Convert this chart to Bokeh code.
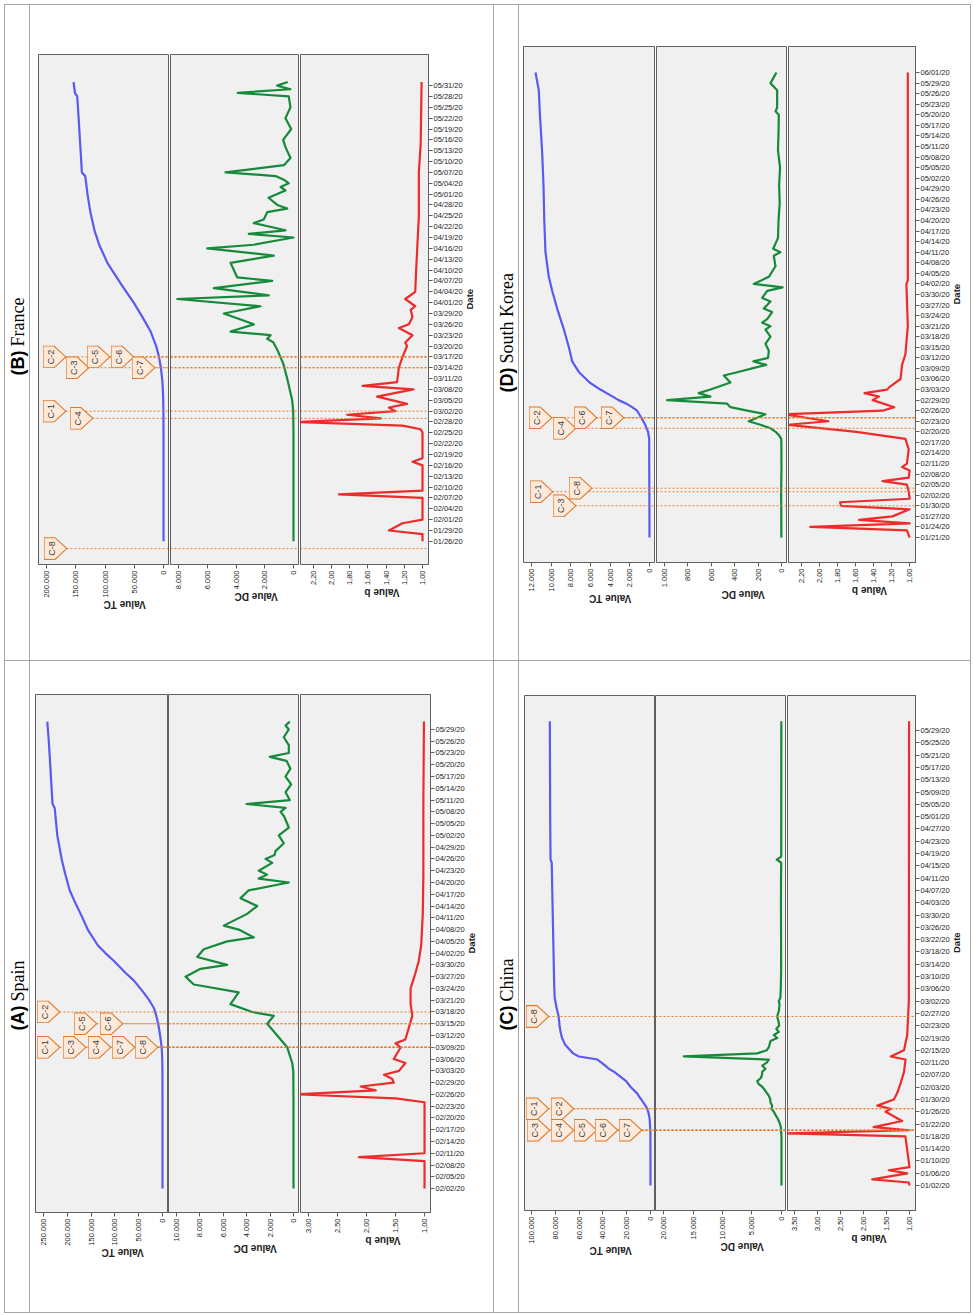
import math, base64
import pandas as pd
from bokeh.plotting import figure
from bokeh.models import Range1d, FixedTicker, Span, Spacer
from bokeh.layouts import row, column
from bokeh.core.properties import value
from bokeh.embed import file_html
from bokeh.resources import INLINE

EPOCH = pd.Timestamp("2020-01-01")
def day(s):
    return int((pd.Timestamp(s) - EPOCH).days)

# ======================= DATA =======================
# each series: [day offset from the country's first day, value]

# ---- (B) France ----
FR_DAY0 = "2020-01-26"
fr_tc = [[0,3],[20,12],[30,60],[35,130],[40,650],[44,1800],[48,4500],[51,7700],[54,12600],
         [58,22000],[62,36000],[66,51000],[71,72000],[77,96000],[82,110000],[86,118000],
         [91,125000],[96,130000],[100,133000],[101,134000],[102,139500],[110,142500],
         [118,145500],[123,147500],[124,151400],[127,153800]]
fr_dc = [[0,0],[30,0],[36,20],[39,90],[45,440],[49,700],[53,1130],[55,1400],[56,1830],[57,1600],
         [58,4380],[60,2760],[63,4850],[65,2300],[67,8090],[68,1720],[70,5540],[72,1480],
         [73,3920],[75,4150],[77,4380],[79,1370],[81,6000],[82,2760],[84,0],[85,3110],[86,560],
         [88,2760],[89,2070],[91,1830],[92,440],[93,1130],[95,1740],[97,560],[98,900],[99,330],
         [100,670],[101,1250],[102,4730],[104,670],[106,210],[109,560],[111,720],[114,160],
         [117,560],[120,210],[123,330],[124,3880],[125,210],[126,1130],[127,400]]
fr_b = [[0,1.0],[2,1.0],[3,1.37],[5,1.22],[6,1.0],[12,1.0],[13,1.92],[14,1.0],[21,1.0],[22,1.11],
        [23,1.0],[30,1.0],[31,1.02],[32,1.22],[33,2.4],[34,1.46],[35,1.83],[36,1.30],[37,1.37],
        [38,1.17],[40,1.50],[42,1.10],[43,1.66],[44,1.28],[48,1.26],[51,1.22],[54,1.17],[55,1.19],
        [57,1.11],[59,1.26],[60,1.15],[62,1.11],[64,1.13],[65,1.08],[67,1.19],[69,1.08],[75,1.07],
        [80,1.06],[90,1.04],[102,1.04],[110,1.02],[127,1.01]]
fr_marks = [["C-1","2020-03-02"],["C-2","2020-03-17"],["C-3","2020-03-14"],["C-4","2020-02-29"],
            ["C-5","2020-03-17"],["C-6","2020-03-17"],["C-7","2020-03-14"],["C-8","2020-01-24"]]
fr_tc_ticks = [0, 50000, 100000, 150000, 200000]
fr_tc_labels = ["0", "50.000", "100.000", "150.000", "200.000"]
fr_dc_ticks = [0, 2000, 4000, 6000, 8000]
fr_dc_labels = ["0", "2.000", "4.000", "6.000", "8.000"]
fr_b_ticks = [1.0, 1.2, 1.4, 1.6, 1.8, 2.0, 2.2]
fr_b_labels = ["1,00", "1,20", "1,40", "1,60", "1,80", "2,00", "2,20"]

# ---- (A) Spain ----
ES_DAY0 = "2020-02-02"
es_tc = [[0,1],[22,2],[24,6],[27,45],[30,165],[33,500],[36,1700],[39,5000],[42,9000],[44,13000],
         [46,18000],[48,28000],[50,40000],[53,60000],[55,78000],[58,102000],[60,120000],[62,136000],
         [66,157000],[70,172000],[73,184000],[76,195000],[80,204000],[84,212000],[90,221000],
         [97,226500],[98,231000],[104,234000],[110,236800],[115,239500],[119,242000]]
es_dc = [[0,0],[22,0],[30,20],[32,110],[36,540],[39,1390],[42,2250],[44,1680],[45,3530],[47,5390],
         [50,4680],[52,8520],[54,9230],[56,7950],[57,5670],[59,8230],[61,7670],[63,5670],[64,3390],
         [66,4680],[67,5960],[70,3960],[72,3100],[74,4530],[76,3820],[78,400],[79,2970],[80,2250],
         [81,2970],[83,1820],[84,2390],[85,1620],[86,1540],[88,830],[90,1260],[92,400],[95,830],
         [96,1110],[97,680],[98,4020],[99,320],[101,680],[103,200],[105,680],[107,260],[109,600],
         [110,2030],[111,400],[113,400],[115,830],[117,400],[118,680],[119,320]]
es_b = [[0,1.0],[7,1.0],[8,2.13],[9,1.0],[22,1.0],[23,1.5],[24,3.2],[25,1.84],[26,2.1],[27,1.53],
        [28,1.56],[29,1.7],[30,1.44],[32,1.33],[33,1.53],[36,1.41],[37,1.5],[38,1.33],[41,1.27],
        [44,1.21],[47,1.24],[51,1.24],[55,1.155],[58,1.1],[62,1.057],[70,1.03],[80,1.02],[98,1.02],
        [119,1.01]]
es_marks = [["C-1","2020-03-09"],["C-2","2020-03-18"],["C-3","2020-03-09"],["C-4","2020-03-09"],
            ["C-5","2020-03-15"],["C-6","2020-03-15"],["C-7","2020-03-09"],["C-8","2020-03-09"]]
es_tc_ticks = [0, 50000, 100000, 150000, 200000, 250000]
es_tc_labels = ["0", "50.000", "100.000", "150.000", "200.000", "250.000"]
es_dc_ticks = [0, 2000, 4000, 6000, 8000, 10000]
es_dc_labels = ["0", "2.000", "4.000", "6.000", "8.000", "10.000"]
es_b_ticks = [1.0, 1.5, 2.0, 2.5, 3.0]
es_b_labels = ["1,00", "1,50", "2,00", "2,50", "3,00"]

# ---- (D) South Korea ----
KR_DAY0 = "2020-01-21"
kr_tc = [[0,1],[10,11],[20,28],[28,31],[30,150],[32,430],[34,830],[36,1260],[37,1770],[38,2340],
         [39,3150],[40,3740],[42,5000],[44,6090],[47,7190],[50,7860],[54,8200],[59,8700],[65,9390],
         [70,9890],[74,10240],[81,10580],[90,10700],[100,10780],[109,10910],[120,11140],
         [127,11260],[132,11590]]
kr_dc = [[0,1],[10,2],[12,3],[20,0],[27,1],[28,2],[29,20],[30,50],[31,94],[32,180],[33,280],
         [34,208],[35,137],[36,293],[37,436],[38,464],[39,977],[40,607],[41,707],[42,607],[43,521],
         [44,436],[46,493],[47,370],[48,250],[49,130],[50,240],[51,115],[53,108],[55,137],[57,94],
         [59,137],[60,94],[61,165],[62,122],[64,80],[65,151],[67,94],[68,165],[70,122],[71,-10],
         [72,237],[74,108],[77,51],[80,66],[81,9],[82,71],[85,30],[90,25],[95,15],[100,20],
         [105,12],[110,30],[115,25],[120,23],[121,51],[122,37],[127,37],[129,94],[132,43]]
kr_b = [[0,1.0],[2,1.03],[3,2.10],[4,1.0],[5,1.56],[6,1.19],[8,1.0],[9,1.76],[10,1.77],[11,1.0],
        [13,1.01],[15,1.03],[16,1.30],[17,1.01],[19,1.0],[20,1.084],[21,1.03],[25,1.01],[28,1.047],
        [30,1.59],[32,2.35],[33,1.90],[35,2.4],[36,1.30],[37,1.17],[39,1.41],[40,1.34],[41,1.50],
        [42,1.25],[43,1.21],[45,1.10],[49,1.084],[52,1.047],[60,1.02],[72,1.036],[73,1.02],
        [132,1.02]]
kr_marks = [["C-1","2020-02-03"],["C-2","2020-02-24"],["C-3","2020-01-30"],["C-4","2020-02-21"],
            ["C-6","2020-02-24"],["C-7","2020-02-24"],["C-8","2020-02-04"]]
kr_tc_ticks = [0, 2000, 4000, 6000, 8000, 10000, 12000]
kr_tc_labels = ["0", "2.000", "4.000", "6.000", "8.000", "10.000", "12.000"]
kr_dc_ticks = [0, 200, 400, 600, 800, 1000]
kr_dc_labels = ["0", "200", "400", "600", "800", "1.000"]
kr_b_ticks = [1.0, 1.2, 1.4, 1.6, 1.8, 2.0, 2.2]
kr_b_labels = ["1,00", "1,20", "1,40", "1,60", "1,80", "2,00", "2,20"]

# ---- (C) China ----
CN_DAY0 = "2020-01-02"
cn_tc = [[0,0],[17,60],[18,200],[19,290],[20,440],[21,570],[22,830],[23,1290],[24,1980],[25,2740],
         [26,4200],[27,5970],[28,7710],[29,9690],[30,11200],[32,16500],[34,20500],[35,24000],
         [37,30500],[38,35000],[39,38000],[41,44500],[42,60200],[43,65000],[44,67500],[46,72000],
         [48,74300],[50,75600],[52,76400],[55,77200],[58,79000],[61,80500],[65,80900],[70,81200],
         [80,81700],[95,82500],[105,83000],[106,84000],[120,84300],[151,84600]]
cn_dc = [[0,0],[16,5],[18,80],[19,120],[20,250],[21,460],[22,700],[23,1020],[24,1300],[25,1700],
         [26,1580],[27,1860],[28,1900],[29,2100],[30,2420],[31,2800],[32,3200],[33,3850],[34,4120],
         [35,3500],[36,3300],[37,3270],[38,2710],[39,3270],[40,2500],[41,2150],[42,16560],[43,4120],
         [44,2500],[45,2150],[46,2000],[47,1860],[48,730],[49,1300],[50,450],[51,890],[52,400],
         [53,460],[55,730],[57,430],[59,330],[60,460],[61,200],[64,120],[70,60],[80,70],[90,90],
         [100,80],[105,50],[106,800],[107,50],[120,40],[151,30]]
cn_b = [[0,1.0],[1,1.015],[2,1.81],[4,1.05],[5,1.45],[6,1.0],[16,1.09],[17,3.7],[18,1.0],[19,1.78],
        [21,1.16],[24,1.52],[25,1.41],[26,1.70],[28,1.34],[30,1.27],[33,1.20],[37,1.12],[41,1.087],
        [42,1.41],[44,1.12],[49,1.05],[60,1.015],[151,1.01]]
cn_marks = [["C-1","2020-01-27"],["C-2","2020-01-27"],["C-3","2020-01-20"],["C-4","2020-01-20"],
            ["C-5","2020-01-20"],["C-6","2020-01-20"],["C-7","2020-01-20"],["C-8","2020-02-26"]]
cn_tc_ticks = [0, 20000, 40000, 60000, 80000, 100000]
cn_tc_labels = ["0", "20.000", "40.000", "60.000", "80.000", "100.000"]
cn_dc_ticks = [0, 5000, 10000, 15000, 20000]
cn_dc_labels = ["0", "5.000", "10.000", "15.000", "20.000"]
cn_b_ticks = [1.0, 1.5, 2.0, 2.5, 3.0, 3.5]
cn_b_labels = ["1,00", "1,50", "2,00", "2,50", "3,00", "3,50"]

COUNTRIES = {
    "FR": dict(letter="(B)", name="France", day0=FR_DAY0, tc=fr_tc, dc=fr_dc, b=fr_b, marks=fr_marks,
               ticks=dict(tc=(fr_tc_ticks, fr_tc_labels), dc=(fr_dc_ticks, fr_dc_labels), b=(fr_b_ticks, fr_b_labels)),
               dates=("2020-01-26", "2020-05-31", 3)),
    "ES": dict(letter="(A)", name="Spain", day0=ES_DAY0, tc=es_tc, dc=es_dc, b=es_b, marks=es_marks,
               ticks=dict(tc=(es_tc_ticks, es_tc_labels), dc=(es_dc_ticks, es_dc_labels), b=(es_b_ticks, es_b_labels)),
               dates=("2020-02-02", "2020-05-29", 3)),
    "KR": dict(letter="(D)", name="South Korea", day0=KR_DAY0, tc=kr_tc, dc=kr_dc, b=kr_b, marks=kr_marks,
               ticks=dict(tc=(kr_tc_ticks, kr_tc_labels), dc=(kr_dc_ticks, kr_dc_labels), b=(kr_b_ticks, kr_b_labels)),
               dates=("2020-01-21", "2020-06-01", 3)),
    "CN": dict(letter="(C)", name="China", day0=CN_DAY0, tc=cn_tc, dc=cn_dc, b=cn_b, marks=cn_marks,
               ticks=dict(tc=(cn_tc_ticks, cn_tc_labels), dc=(cn_dc_ticks, cn_dc_labels), b=(cn_b_ticks, cn_b_labels)),
               dates=("2020-01-02", "2020-05-29", 4)),
}

# ======================= LAYOUT / STYLE =======================
LAYOUT = {
    "FR": dict(H=655, top=49, bottom=96, fh=510, w=dict(tc=(8, 130, 1), dc=(1, 128, 1), b=(1, 128, 65)),
               yr=(-6.4, 134.6), xr=dict(tc=(213700, -8500), dc=(8557, -348), b=(2.343, 0.934)),
               off={"C-1": 4, "C-2": 4, "C-3": 27, "C-4": 31, "C-5": 48, "C-6": 72, "C-7": 93, "C-8": 5},
               title_y=285),
    "ES": dict(H=651, top=33, bottom=100, fh=518, w=dict(tc=(5, 132, 1), dc=(0, 130, 1), b=(1, 130, 63)),
               yr=(-6.1, 125.9), xr=dict(tc=(266800, -10500), dc=(10684, -427), b=(3.138, 0.897)),
               off={"C-1": 1, "C-2": 1, "C-3": 27, "C-4": 52, "C-5": 38, "C-6": 64, "C-7": 76, "C-8": 99},
               title_y=282),
    "KR": dict(H=655, top=41, bottom=98, fh=516, w=dict(tc=(4, 131, 1), dc=(1, 130, 1), b=(1, 129, 53)),
               yr=(-7.1, 139.4), xr=dict(tc=(12813, -508), dc=(1068, -43), b=(2.342, 0.935)),
               off={"C-1": 6, "C-2": 5, "C-3": 29, "C-4": 29, "C-6": 50, "C-7": 77, "C-8": 45},
               title_y=268),
    "CN": dict(H=651, top=34, bottom=102, fh=515, w=dict(tc=(5, 130, 1), dc=(0, 130, 1), b=(1, 128, 55)),
               yr=(-8.1, 159.4), xr=dict(tc=(105880, -3361), dc=(21356, -678), b=(3.652, 0.87)),
               off={"C-1": 1, "C-2": 26, "C-3": 2, "C-4": 26, "C-5": 49, "C-6": 70, "C-7": 94, "C-8": 1},
               title_y=282),
}

COLORS = dict(tc="#5a5af2", dc="#168a3a", b="#ee2b2b")
TITLES = dict(tc="Value TC", dc="Value DC", b="Value b")
FRAME_BG = "#f0f0f0"
FRAME_LINE = "#606060"
ORANGE = "#e6802f"
RULE = {"background-color": "#a6a6a6"}
FONT = "Liberation Sans"
MW, MH = 24, 23

_svg = ('<svg xmlns="http://www.w3.org/2000/svg" width="96" height="92" viewBox="0 0 24 23">'
        '<path d="M0.6 0.6 H11.5 L23.3 11.5 L11.5 22.4 H0.6 Z" fill="#fdeadb" stroke="#e27a2e" '
        'stroke-width="1.1"/></svg>')
MARK_URL = "data:image/svg+xml;base64," + base64.b64encode(_svg.encode()).decode()


def style_axis(ax, size="7.5px"):
    ax.major_tick_in = 0
    ax.major_tick_out = 4
    ax.minor_tick_in = 0
    ax.minor_tick_out = 0
    ax.axis_line_color = FRAME_LINE
    ax.major_tick_line_color = FRAME_LINE
    ax.major_label_text_font = FONT
    ax.major_label_text_font_size = size
    ax.major_label_text_color = "#222222"
    ax.major_label_standoff = 2
    ax.axis_label_text_font = FONT
    ax.axis_label_text_font_style = "bold"
    ax.axis_label_text_color = "#222222"


def build(code):
    c, L = COUNTRIES[code], LAYOUT[code]
    d0 = day(c["day0"])
    yr = Range1d(d0 + L["yr"][0], d0 + L["yr"][1])
    marks = [(lab, day(dt)) for lab, dt in c["marks"]]
    ds = pd.date_range(c["dates"][0], c["dates"][1], freq=f'{c["dates"][2]}D')
    dticks = [day(x) for x in ds]
    dlabels = [x.strftime("%m/%d/%y") for x in ds]
    figs = []
    for key in ("tc", "dc", "b"):
        lb, fw, rb = L["w"][key]
        p = figure(width=lb + fw + rb, height=L["top"] + L["fh"] + L["bottom"],
                   x_range=Range1d(*L["xr"][key]), y_range=yr,
                   min_border_left=lb, min_border_right=rb, min_border_top=L["top"],
                   min_border_bottom=L["bottom"], toolbar_location=None, output_backend="svg",
                   y_axis_location=("right" if key == "b" else None), x_axis_location="below")
        p.background_fill_color = FRAME_BG
        p.border_fill_color = "white"
        p.outline_line_color = FRAME_LINE
        p.outline_line_width = 1
        p.grid.visible = False
        ser = c[key]
        p.line(x=[v for _, v in ser], y=[d0 + d for d, _ in ser], line_color=COLORS[key],
               line_width=2.2, line_join="round")
        ax = p.xaxis[0]
        style_axis(ax)
        ticks, labels = c["ticks"][key]
        ax.ticker = FixedTicker(ticks=ticks)
        ax.major_label_overrides = dict(zip(ticks, labels))
        ax.major_label_orientation = math.pi / 2
        ax.axis_label = TITLES[key]
        ax.axis_label_text_font_size = "10px"
        ax.axis_label_orientation = math.pi
        ax.axis_label_standoff = 4
        ys = [dd for _, dd in marks]
        if key == "tc":
            p.extra_x_ranges = {"px": Range1d(0, fw)}
            offs = [L["off"][lab] for lab, _ in marks]
            p.segment(x0=[o + MW - 1 for o in offs], y0=ys, x1=[fw] * len(ys), y1=ys, x_range_name="px",
                      line_color=ORANGE, line_dash="2 2", line_width=1.0)
            p.image_url(url=[MARK_URL] * len(ys), x=offs, y=ys, w=MW, h=MH, w_units="screen",
                        h_units="screen", anchor="center_left", x_range_name="px")
            p.text(x=[o + 8.5 for o in offs], y=ys, text=[lab for lab, _ in marks], angle=math.pi / 2,
                   text_align="center", text_baseline="middle", text_font=value(FONT),
                   text_font_size="9px", text_color="#3a3a3a", x_range_name="px")
        else:
            for dd in ys:
                p.add_layout(Span(location=dd, dimension="width", line_color=ORANGE,
                                  line_dash="2 2", line_width=1.0))
        if key == "b":
            ya = p.yaxis[0]
            style_axis(ya)
            ya.major_label_standoff = 1
            ya.ticker = FixedTicker(ticks=dticks)
            ya.major_label_overrides = dict(zip(dticks, dlabels))
            ya.axis_label = "Date"
            ya.axis_label_text_font_size = "9.5px"
            ya.axis_label_orientation = math.pi / 2
            ya.axis_label_standoff = 4
        figs.append(p)
    return row(*figs)


def title_fig(code):
    c, L = COUNTRIES[code], LAYOUT[code]
    H = L["H"]
    p = figure(width=24, height=H, x_range=Range1d(0, 24), y_range=Range1d(0, H), min_border=0,
               toolbar_location=None, output_backend="svg", x_axis_location=None, y_axis_location=None)
    p.outline_line_color = None
    p.background_fill_color = "white"
    p.border_fill_color = "white"
    p.grid.visible = False
    p.text(x=[12], y=[L["title_y"]], text=[c["letter"]], angle=math.pi / 2, text_align="left",
           text_baseline="middle", text_font=value(FONT), text_font_style="bold",
           text_font_size="18px", text_color="black")
    p.text(x=[12], y=[L["title_y"] + 29], text=[c["name"]], angle=math.pi / 2, text_align="left",
           text_baseline="middle", text_font=value("Liberation Serif"), text_font_size="18px",
           text_color="black")
    return p


def vline(h):
    return Spacer(width=1, height=h, styles=RULE)


W = 967
top = row(vline(655), title_fig("FR"), vline(655), build("FR"), vline(655),
          title_fig("KR"), vline(655), build("KR"), vline(655))
bottom = row(vline(651), title_fig("ES"), vline(651), build("ES"), vline(651),
             title_fig("CN"), vline(651), build("CN"), vline(651))
inner = column(Spacer(width=W, height=1, styles=RULE), top, Spacer(width=W, height=1, styles=RULE),
               bottom, Spacer(width=W, height=1, styles=RULE))
page = column(Spacer(width=W + 4, height=4), row(Spacer(width=4, height=1309), inner))

open("out.html", "w").write(file_html(page, INLINE))
